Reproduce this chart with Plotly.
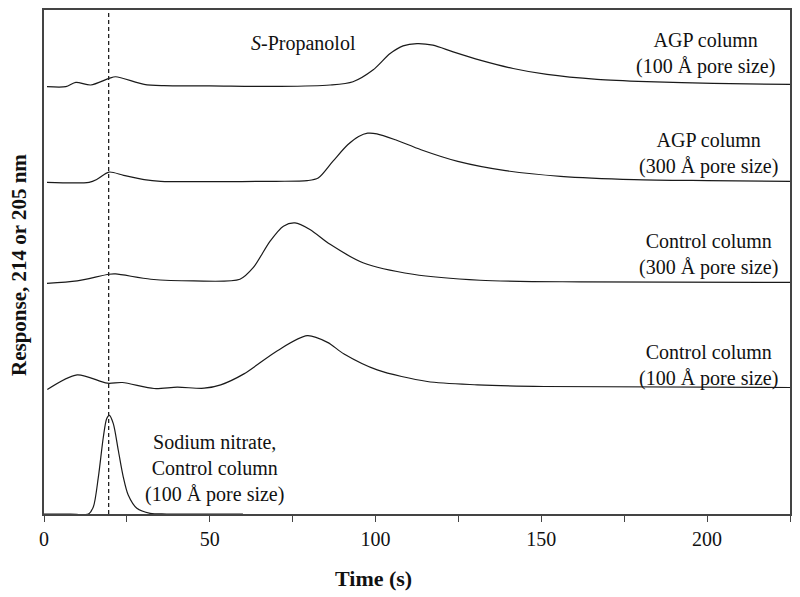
import plotly.graph_objects as go

# Time points (s) and responses (arbitrary units, relative to each trace's baseline)
agp100_t = [0.9, 6.6, 9.6, 14.1, 19.6, 21.6, 30.2, 36.2, 50, 71.2, 86.3, 93.2, 99.2, 104.4, 108.3, 112.5, 117.3, 123.4, 131.5, 141.5, 151.7, 166.8, 181.8, 201.8, 225]
agp100_r = [0, 0, 4.3, 1.7, 8.3, 10, 2.3, 1.0, 0.8, 0.3, 1.7, 5, 16.7, 33.3, 41, 43.3, 41.7, 35, 26.7, 18.3, 12.3, 7.3, 5, 3.3, 2.3]

agp300_t = [0.9, 13.6, 16.0, 19.6, 24.0, 30.2, 35.2, 50, 70, 79.4, 82.7, 87.1, 91.6, 94.9, 97.6, 100.4, 106.0, 113.7, 124.8, 139.2, 155.8, 178, 200.1, 225]
agp300_r = [0, 0, 3, 10.3, 7, 2.7, 1, 0.7, 1, 1.7, 4.3, 21, 37.7, 46, 49.3, 48.7, 42.7, 32.7, 21, 11.7, 6, 2.7, 1.7, 1]

ctl300_t = [0.9, 10, 19.6, 21.6, 32.2, 45.2, 59.1, 63.1, 68.2, 72.2, 75.7, 80.2, 86.3, 96.2, 111.3, 131.5, 161.7, 225]
ctl300_r = [0, 2.5, 9.2, 9.5, 4.2, 2.5, 4.2, 15.8, 42.5, 57.5, 60.8, 54.2, 39.2, 20.8, 9.2, 3.2, 1.5, 1]

ctl100_t = [1, 10, 19.1, 23.6, 33.2, 40.2, 48.3, 53.3, 60.3, 70.4, 79.4, 85.5, 90.5, 100.5, 115.6, 130.7, 150.8, 225]
ctl100_r = [-1, 13.7, 5.3, 6, 0, 1.3, 0.3, 3.7, 14.7, 38, 53, 46.3, 34.7, 18.7, 7, 3.7, 2, 1]

nitrate_t = [0, 8, 13.4, 14.9, 16.4, 17.9, 18.9, 19.7, 20.9, 22.4, 23.9, 25.4, 28, 32, 37, 60]
nitrate_r = [0, 0, 0, 7.3, 37.3, 77.3, 95.7, 99, 90.7, 64, 37.3, 19, 5.7, 0.7, 0, 0]

# Baseline offsets for the stacked chromatograms
offsets = {"agp100": 429, "agp300": 333, "ctl300": 231.5, "ctl100": 126, "nitrate": 0}

series = [
    ("agp100", agp100_t, agp100_r),
    ("agp300", agp300_t, agp300_r),
    ("ctl300", ctl300_t, ctl300_r),
    ("ctl100", ctl100_t, ctl100_r),
    ("nitrate", nitrate_t, nitrate_r),
]

void_time = 19.5

x_ticks = [0, 25, 50, 75, 100, 125, 150, 175, 200, 225]
x_ticktext = ["0", "", "50", "", "100", "", "150", "", "200", ""]

labels = [
    (78.4, 472, "<i>S</i>-Propanolol"),
    (199.5, 462, "AGP column<br>(100 Å pore size)"),
    (200.5, 362, "AGP column<br>(300 Å pore size)"),
    (200.5, 261, "Control column<br>(300 Å pore size)"),
    (200.5, 149, "Control column<br>(100 Å pore size)"),
    (51.5, 46, "Sodium nitrate,<br>Control column<br>(100 Å pore size)"),
]

FONT = "Liberation Serif"

fig = go.Figure()
for key, t, r in series:
    fig.add_trace(go.Scatter(
        x=t, y=[v + offsets[key] for v in r], mode="lines",
        line=dict(color="#1a1a1a", width=1.2, shape="spline", smoothing=0.8),
        showlegend=False, hoverinfo="skip"))

fig.add_shape(type="line", xref="x", yref="paper", x0=void_time, x1=void_time, y0=0, y1=1,
              line=dict(color="#222222", width=1.3, dash="4px,3px"))

for x, y, txt in labels:
    fig.add_annotation(x=x, y=y, text=txt, showarrow=False, xanchor="center", yanchor="middle",
                       font=dict(family=FONT, size=20, color="#111111"), align="center")

# Axis titles as annotations (pixel-precise placement)
fig.add_annotation(xref="paper", yref="paper", x=-0.0335, y=0.494, text="<b>Response, 214 or 205 nm</b>",
                   textangle=-90, showarrow=False, xanchor="center", yanchor="middle",
                   font=dict(family=FONT, size=21, color="#111111"))
fig.add_annotation(xref="paper", yref="paper", x=0.442, y=-0.127, text="<b>Time (s)</b>",
                   showarrow=False, xanchor="center", yanchor="middle",
                   font=dict(family=FONT, size=22, color="#111111"))

fig.update_layout(
    width=792, height=589,
    margin=dict(l=36, r=10, t=0, b=83),
    paper_bgcolor="white", plot_bgcolor="white",
    font=dict(family=FONT, color="#111111"),
)
fig.update_xaxes(range=[0, 225], tickvals=x_ticks, ticktext=x_ticktext, ticks="outside", ticklen=6,
                 tickcolor="#444444", tickwidth=1.2,
                 showline=True, linecolor="#444444", linewidth=1.5, mirror=True, showgrid=False,
                 zeroline=False, tickfont=dict(family=FONT, size=20, color="#111111"))
fig.update_yaxes(range=[0, 506], showticklabels=False, ticks="", showline=True, linecolor="#444444",
                 linewidth=1.5, mirror=True, showgrid=False, zeroline=False, automargin=False)

fig.write_html("out.html")
